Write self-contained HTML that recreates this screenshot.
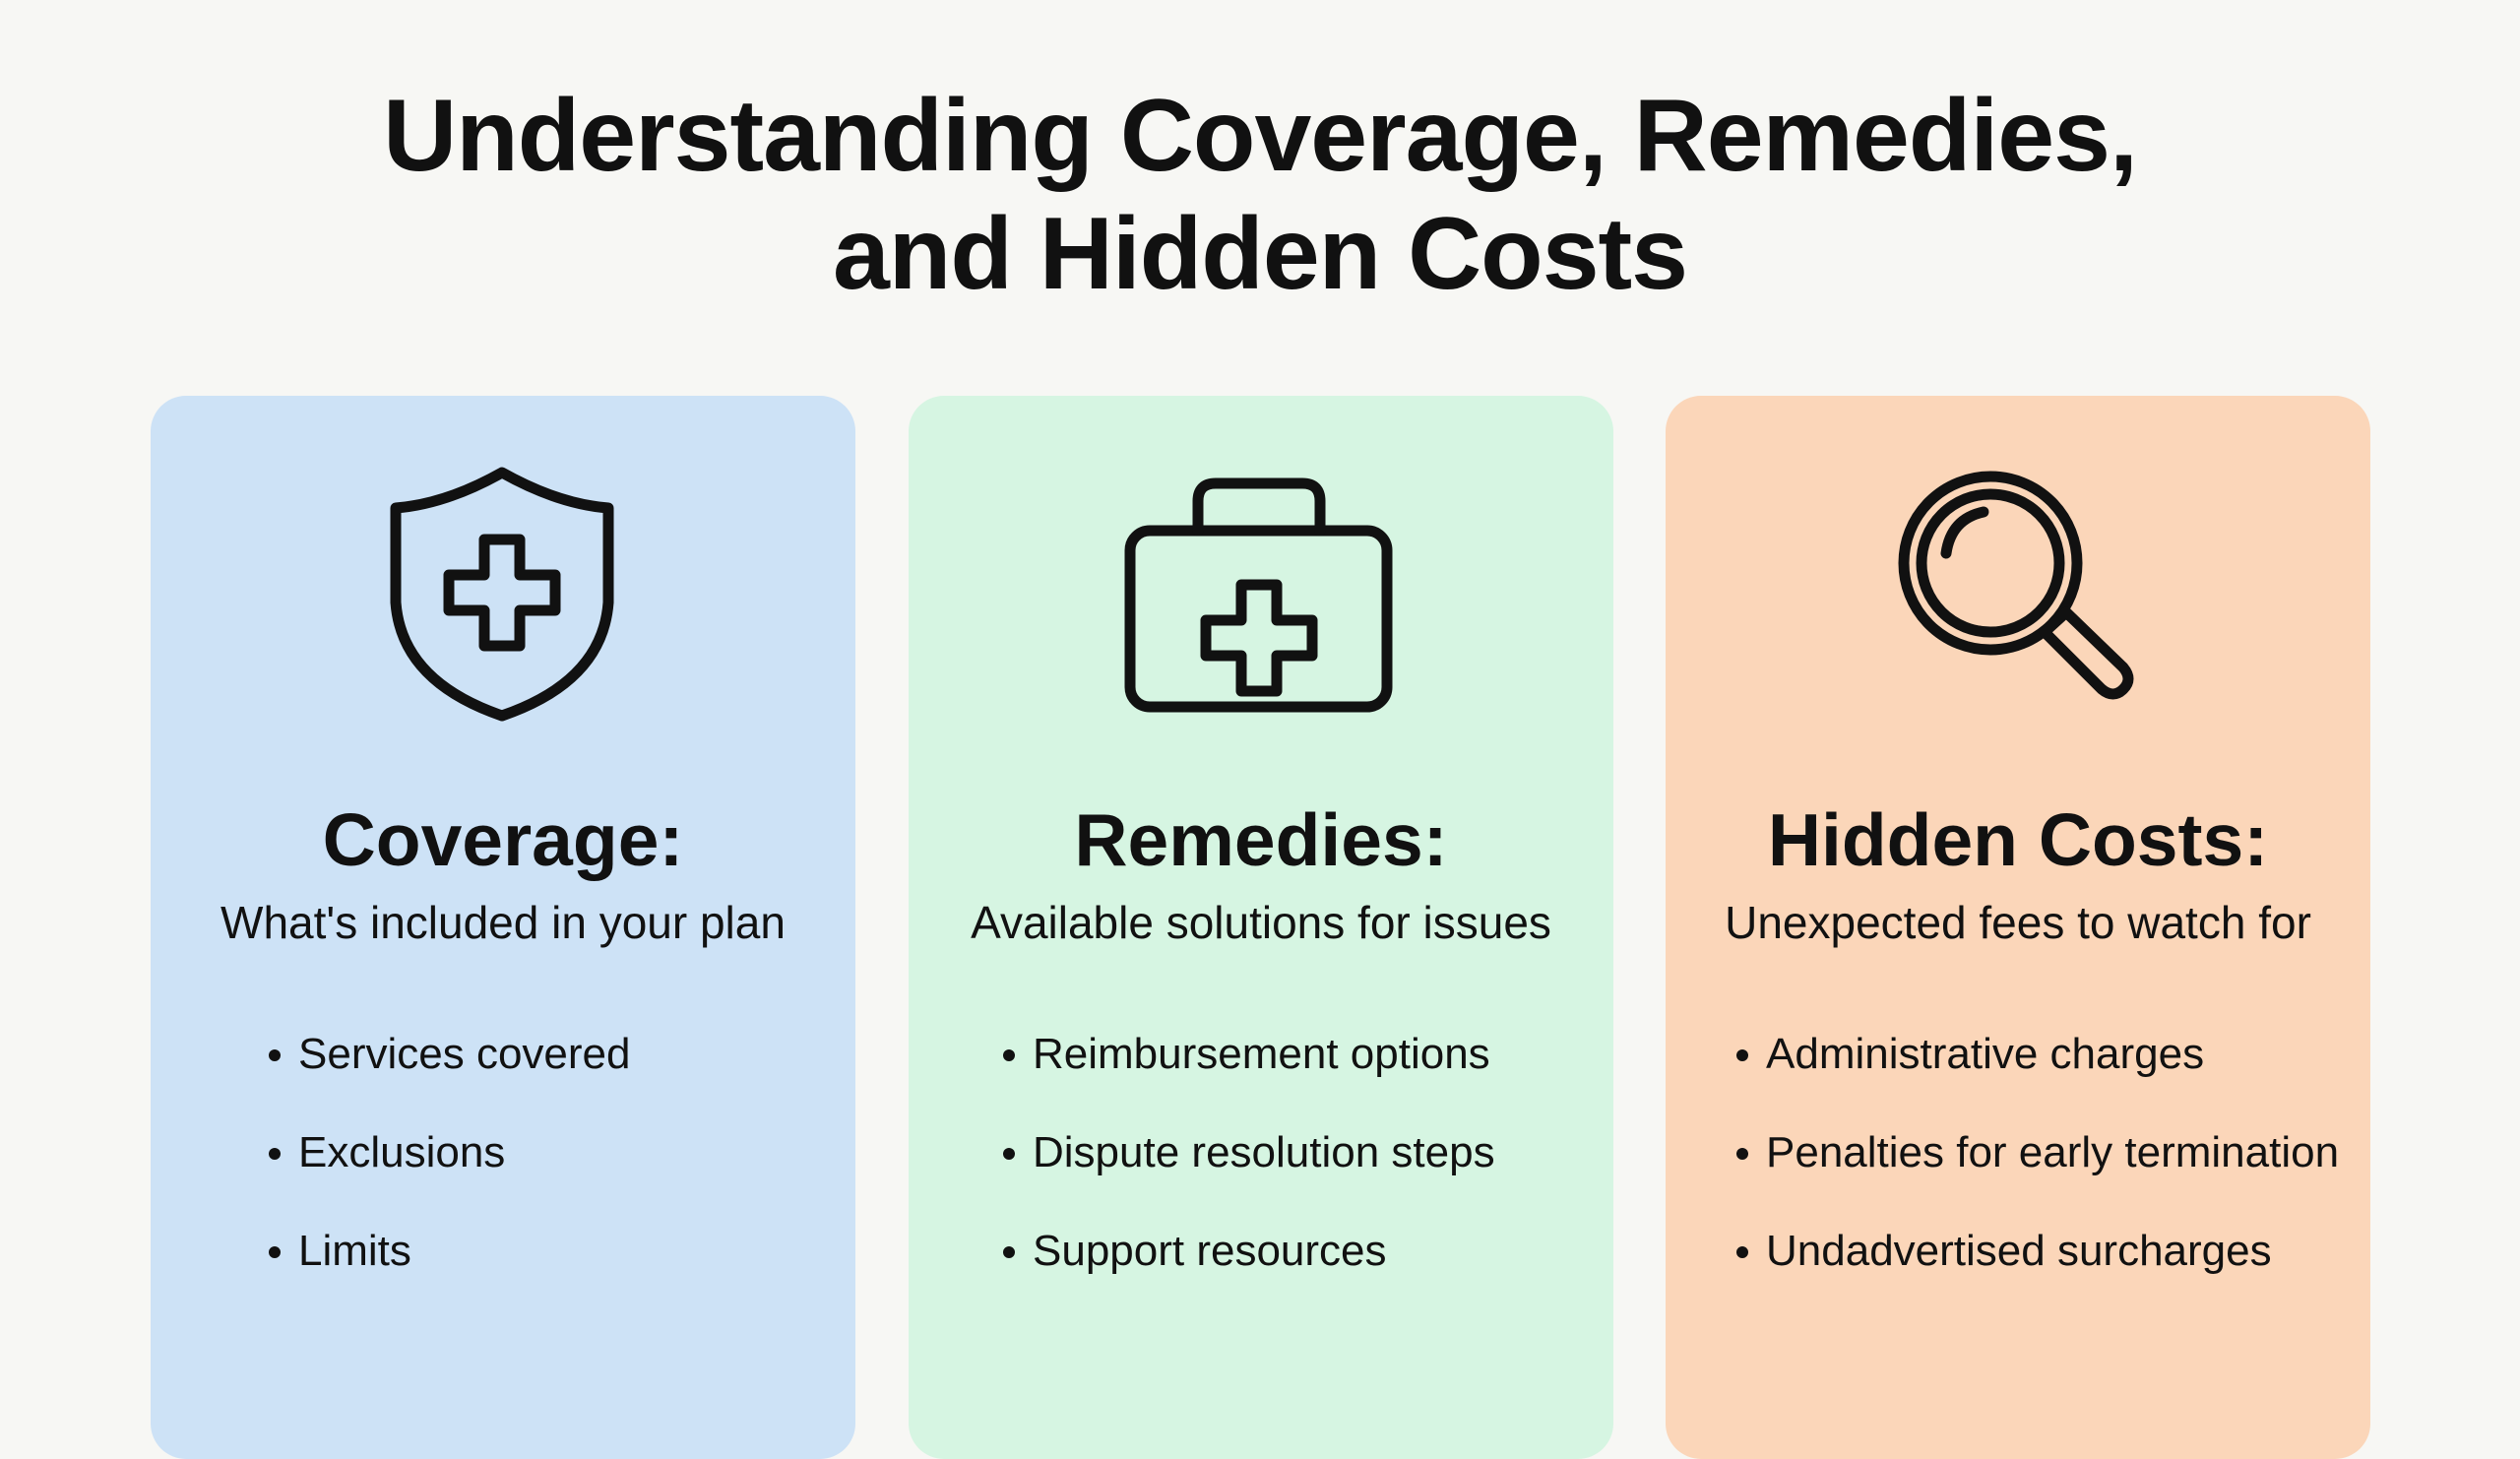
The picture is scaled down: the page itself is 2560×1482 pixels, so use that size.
<!DOCTYPE html>
<html><head><meta charset="utf-8"><style>
html,body{margin:0;padding:0;}
body{width:2560px;height:1440px;background:#f7f7f4;position:relative;overflow:hidden;font-family:"Liberation Sans",sans-serif;color:#111;}
.title{position:absolute;left:0;width:2560px;top:78px;text-align:center;font-weight:bold;font-size:104px;line-height:120px;letter-spacing:-1px;}
.card{position:absolute;top:402px;width:716px;height:1080px;border-radius:36px;}
.c1{left:153px;background:#cde2f6;}
.c2{left:923px;background:#d6f5e2;}
.c3{left:1692px;background:#fbd6b9;}
.card svg{position:absolute;left:0;top:0;}
.h{position:absolute;top:408px;width:716px;text-align:center;font-weight:bold;font-size:75px;}
.s{position:absolute;top:508px;width:716px;text-align:center;font-size:46px;}
ul{position:absolute;top:638px;margin:0;padding:0;list-style:none;font-size:44px;}
li{height:100px;line-height:62px;position:relative;padding-left:30px;}
li:before{content:"";position:absolute;left:0;top:26px;width:12px;height:12px;border-radius:50%;background:#111;}
</style></head><body>
<div class="title">Understanding Coverage, Remedies,<br>and Hidden Costs</div>

<div class="card c1">
<svg width="716" height="400" viewBox="0 0 716 400"><g fill="none" stroke="#111" stroke-width="11" stroke-linejoin="round" stroke-linecap="round">
<path d="M357 78 Q300 110 249 114 L249 210 Q255 290 357 325 Q459 290 465 210 L465 114 Q414 110 357 78 Z"/>
<path d="M339 146 h36 v36 h36 v36 h-36 v36 h-36 v-36 h-36 v-36 h36 z"/></g></svg>
<div class="h">Coverage:</div>
<div class="s">What's included in your plan</div>
<ul style="left:120px"><li>Services covered</li><li>Exclusions</li><li>Limits</li></ul>
</div>

<div class="card c2">
<svg width="716" height="400" viewBox="0 0 716 400"><g fill="none" stroke="#111" stroke-width="11" stroke-linejoin="round" stroke-linecap="round">
<rect x="225" y="137" width="261" height="179" rx="20"/>
<path d="M294 137 v-30 q0-18 18-18 h88 q18 0 18 18 v30"/>
<path d="M338 195 h36 v36 h36 v36 h-36 v36 h-36 v-36 h-36 v-36 h36 z" transform="translate(0,-3)"/></g></svg>
<div class="h">Remedies:</div>
<div class="s">Available solutions for issues</div>
<ul style="left:96px"><li>Reimbursement options</li><li>Dispute resolution steps</li><li>Support resources</li></ul>
</div>

<div class="card c3">
<svg width="716" height="400" viewBox="0 0 716 400"><g fill="none" stroke="#111" stroke-width="11" stroke-linejoin="round" stroke-linecap="round">
<circle cx="330" cy="170" r="88"/>
<circle cx="330" cy="170" r="70"/>
<path d="M285 160 q5 -35 38 -42"/>
<path d="M385 240 l22 -20 l58 56 q10 12 0 22 q-10 10 -22 0 z"/></g></svg>
<div class="h">Hidden Costs:</div>
<div class="s">Unexpected fees to watch for</div>
<ul style="left:72px"><li>Administrative charges</li><li>Penalties for early termination</li><li>Undadvertised surcharges</li></ul>
</div>
</body></html>
